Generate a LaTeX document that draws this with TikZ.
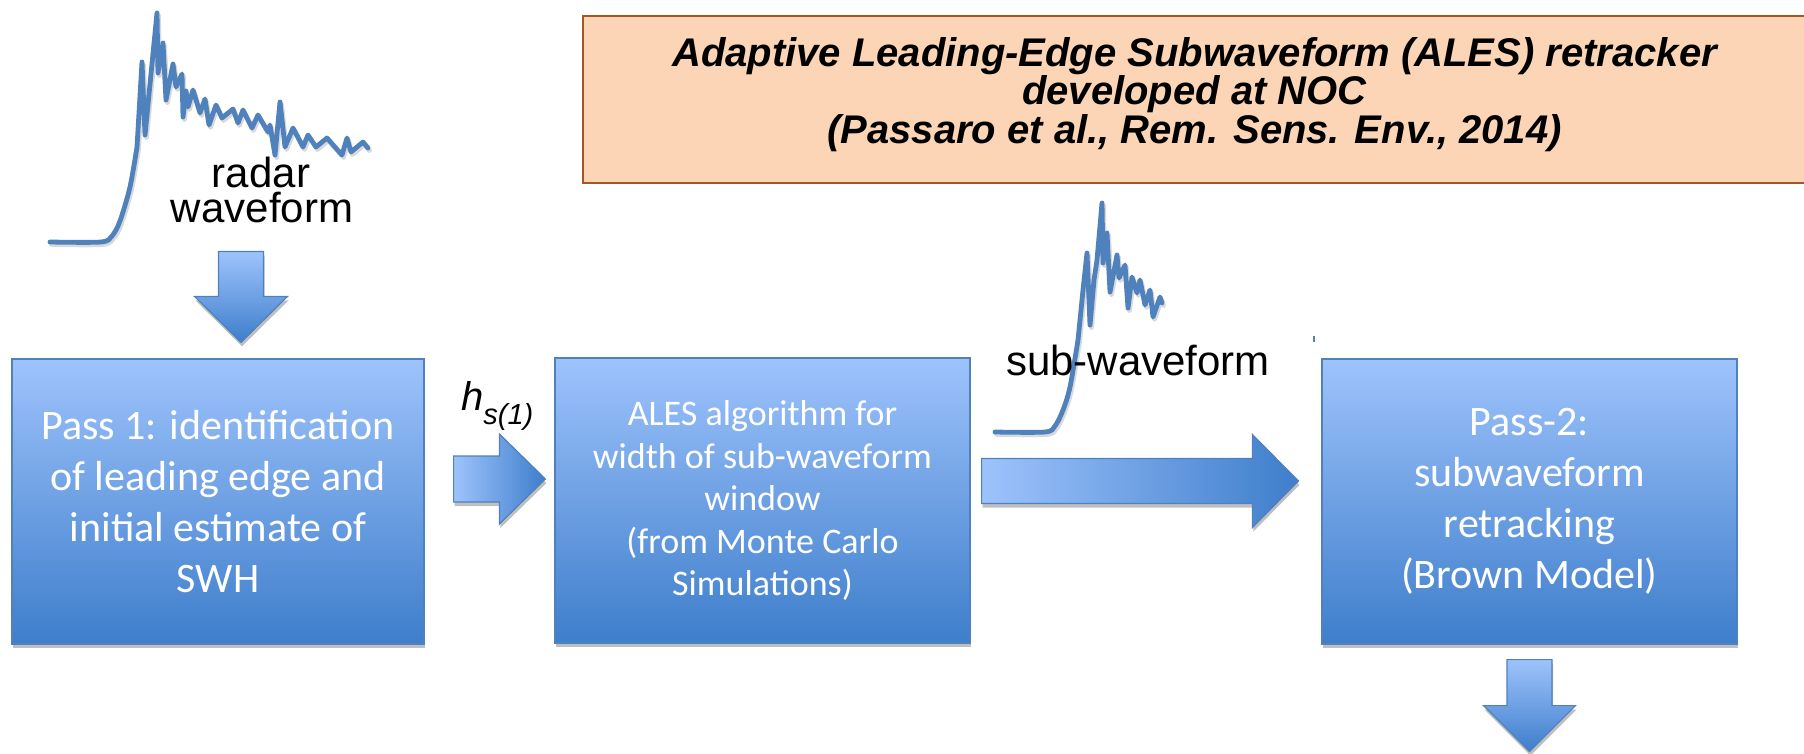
\documentclass[tikz,border=0pt]{standalone}
\usepackage{fontspec}
\setmainfont{Carlito}
\newfontfamily\arialfont{Liberation Sans}
\usetikzlibrary{calc,shadows}

\definecolor{waveblue}{HTML}{4F81BD}
\definecolor{boxtop}{RGB}{158,195,252}
\definecolor{boxbot}{RGB}{62,126,203}
\definecolor{boxedge}{RGB}{79,129,189}
\definecolor{notefill}{RGB}{251,213,181}
\definecolor{noteedge}{RGB}{166,86,32}

% horizontal block arrow: style, tail, tip, shaft half width, head half width, head length
\newcommand\rblock[6]{%
  \path[#1] let \p1=(#2), \p2=(#3) in
    (\x1,\y2+#4pt) -- (\x2-#6pt,\y2+#4pt) -- (\x2-#6pt,\y2+#5pt) -- (\x2,\y2)
    -- (\x2-#6pt,\y2-#5pt) -- (\x2-#6pt,\y2-#4pt) -- (\x1,\y2-#4pt) -- cycle;}
% downward block arrow: style, tail, tip, shaft half width, head half width, head length
\newcommand\dblock[6]{%
  \path[#1] let \p1=(#2), \p2=(#3) in
    (\x2-#4pt,\y1) -- (\x2-#4pt,\y2+#6pt) -- (\x2-#5pt,\y2+#6pt) -- (\x2,\y2)
    -- (\x2+#5pt,\y2+#6pt) -- (\x2+#4pt,\y2+#6pt) -- (\x2+#4pt,\y1) -- cycle;}

% full radar echo
\newcommand\radarwave[1]{%
  \draw[#1] plot[smooth,tension=0.5] coordinates {(50,242) (101,242) (112,236) (120,221) (130,187) (137,147)}
    -- (142,62) -- (145,135) -- (157,13) -- (158,73) -- (163,43) -- (166,100) -- (173,64)
    -- (176,87) -- (182,74) -- (183,117) -- (186,91) -- (188,107) -- (193,90) -- (200,113)
    -- (205,99) -- (209,125) -- (216,105) -- (222,118) -- (233,109) -- (238,123) -- (243,110)
    -- (252,128) -- (258,115) -- (268,132) -- (270,125) -- (275,155) -- (280,102) -- (285,147)
    -- (293,128) -- (303,147) -- (308,135) -- (316,147) -- (327,138) -- (342,155) -- (347,138)
    -- (351,152) -- (363,142) -- (368,148);}
% leading-edge part of the echo
\newcommand\subwave[1]{%
  \draw[#1] plot[smooth,tension=0.5] coordinates {(995,432) (1045,432) (1055,426) (1063,410) (1070,387) (1078,340)}
    -- (1083,290) -- (1087,253) -- (1090,325) -- (1094,280) -- (1097,260) -- (1102,203)
    -- (1103,263) -- (1107,233) -- (1110,292) -- (1117,255) -- (1119,278) -- (1125,265)
    -- (1128,308) -- (1132,277) -- (1137,293) -- (1140,280) -- (1145,305) -- (1150,290)
    -- (1153,317) -- (1160,297) -- (1162,303);}

\begin{document}
\begin{tikzpicture}[x=1pt,y=-1pt,
  softshadow/.style={drop shadow={shadow xshift=1pt, shadow yshift=-4pt, opacity=0.25, fill=black}},
  procbox/.style={draw=boxedge, line width=1.2pt, top color=boxtop, bottom color=boxbot,
    text=white, align=center, inner sep=0pt, softshadow},
  blockarrow/.style={draw=boxedge, line width=1.2pt, softshadow},
  rarrow/.style={blockarrow, left color=boxtop, right color=boxbot},
  darrow/.style={blockarrow, top color=boxtop, bottom color=boxbot},
  wave/.style={draw=waveblue, line width=4.8pt, line join=round, line cap=round},
  waveshadow/.style={draw=black, opacity=0.15, line width=4.8pt, line join=round, line cap=round,
    xshift=1.5pt, yshift=-2.5pt},
  plaintext/.style={font=\arialfont\fontsize{42}{35}\selectfont, text=black, inner sep=0pt, anchor=base}
]
\useasboundingbox (0,0) rectangle (1804,753);
\fill[white] (0,0) rectangle (1804,753);

% waveforms
\radarwave{waveshadow}
\radarwave{wave}
\subwave{waveshadow}
\subwave{wave}
\draw[waveblue, line width=2pt] (1314,336) -- (1314,342);

% reference box
\node[draw=noteedge, line width=2.5pt, fill=notefill, minimum width=1227pt, minimum height=167pt,
  inner sep=0pt] (reference) at (1196.5,99.5) {};
\node[align=center, inner sep=0pt, font=\arialfont\bfseries\itshape\fontsize{40}{38.5}\selectfont]
  (referencetext) at ($(reference.center)+(-2,-5)$)
  {Adaptive Leading-Edge Subwaveform (ALES) retracker\\developed at NOC\\(Passaro et al., Rem. Sens. Env., 2014)};

% labels
\node[plaintext] (radarlbl) at (261,187) {radar};
\node[plaintext] (waveformlbl) at (262,222) {waveform};
\node[plaintext] (sublbl) at (1138,375) {sub-waveform};
\node[anchor=base west, inner sep=0pt, font=\arialfont\itshape] (hlbl) at (461,410)
  {\fontsize{40}{40}\selectfont h\raisebox{-14pt}{\fontsize{29}{29}\selectfont s(1)}};

% processing steps
\node[procbox, minimum width=412pt, minimum height=285pt, font=\fontsize{42}{51}\selectfont]
  (pass1) at (218,501.5) {Pass 1: identification\\of leading edge and\\initial estimate of\\SWH};
\node[procbox, minimum width=415pt, minimum height=285pt, font=\fontsize{36}{42.5}\selectfont]
  (ales) at (762.5,500.5) {ALES algorithm for\\width of sub-waveform\\window\\(from Monte Carlo\\Simulations)};
\node[procbox, minimum width=415pt, minimum height=285pt, font=\fontsize{42}{51}\selectfont]
  (pass2) at (1529.5,501.5) {Pass-2:\\subwaveform\\retracking\\(Brown Model)};

% block arrows between the steps
\coordinate (inTail) at ($(pass1.north)+(23,-107)$);
\coordinate (inTip) at ($(pass1.north)+(23,-16)$);
\dblock{darrow}{inTail}{inTip}{22.5}{46.5}{46}

\coordinate (hTail) at ($(pass1.east)+(29,-22.5)$);
\coordinate (hTip) at ($(ales.west)+(-9,-21.5)$);
\rblock{rarrow}{hTail}{hTip}{23}{45}{46}

\coordinate (subTail) at ($(ales.east)+(11,-19.5)$);
\coordinate (subTip) at ($(pass2.west)+(-23,-20.5)$);
\rblock{rarrow}{subTail}{subTip}{22.5}{46.5}{46}

\coordinate (outTail) at ($(pass2.south)+(0,15)$);
\coordinate (outTip) at ($(pass2.south)+(0,107)$);
\dblock{darrow}{outTail}{outTip}{22.5}{46}{46}
\end{tikzpicture}
\end{document}
